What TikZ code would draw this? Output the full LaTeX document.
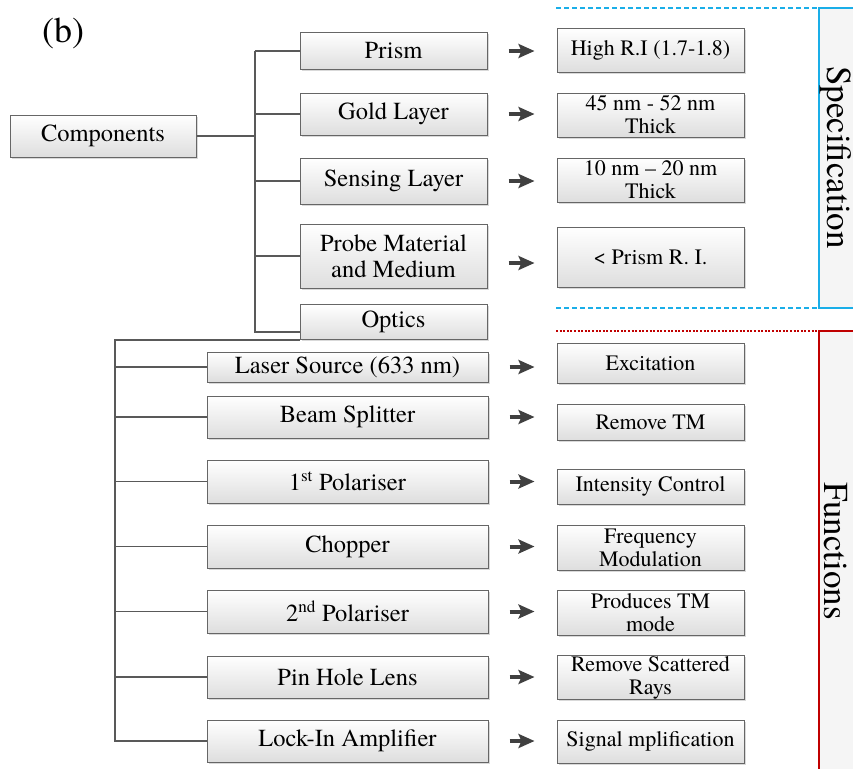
\documentclass[tikz,border=0pt]{standalone}
\usepackage{fontspec}
\setmainfont{TeX Gyre Termes}
\usetikzlibrary{positioning,arrows.meta,shadows}

\definecolor{specblue}{HTML}{1AAEE8}
\definecolor{funcred}{HTML}{C00000}

\begin{document}
\begin{tikzpicture}[
  x=1pt, y=-1pt,
  part/.style={draw=black!60, line width=1pt, top color=white, bottom color=black!13,
               drop shadow={shadow xshift=1.5pt, shadow yshift=-1.5pt, opacity=.3},
               inner sep=1pt, align=center, font=\fontsize{24.5}{26}\selectfont},
  item/.style={part, minimum width=187pt},
  tool/.style={part, minimum width=281pt},
  spec/.style={part, minimum width=187pt, font=\fontsize{22}{23}\selectfont},
  link/.style={draw=black!65, line width=1.6pt},
  ptr/.style={-{Stealth[length=16pt,width=14pt,inset=3pt]}, line width=4pt, draw=black!75,
              shorten <=21pt, shorten >=22pt},
  side/.style={font=\fontsize{35}{37}\selectfont, rotate=-90, inner sep=0pt},
]
\useasboundingbox (0,0) rectangle (853,769);

\node[font=\fontsize{36}{38}\selectfont] (tag) at (63,33) {(b)};

% root and first level
\node[item, minimum width=186pt, minimum height=42pt] (comp) at (103,136) {Components};
\node[item, minimum height=37pt] (prism)   at (393.5,51)  {Prism};
\node[item, minimum height=42pt] (gold)    at (393.5,114) {Gold Layer};
\node[item, minimum height=46pt] (sensing) at (393.5,181) {Sensing Layer};
\node[item, minimum height=64pt] (probe)   at (393.5,256) {Probe Material\\and Medium};
\node[item, minimum height=35pt] (optics)  at (393.5,322) {Optics};

% optics parts
\node[tool, minimum height=30pt] (laser)    at (347.5,367)   {Laser Source (633 nm)};
\node[tool, minimum height=42pt] (splitter) at (347.5,417)   {Beam Splitter};
\node[tool, minimum height=43pt] (pol1)     at (347.5,481.5) {1\textsuperscript{st} Polariser};
\node[tool, minimum height=43pt] (chopper)  at (347.5,546.5) {Chopper};
\node[tool, minimum height=43pt] (pol2)     at (347.5,611.5) {2\textsuperscript{nd} Polariser};
\node[tool, minimum height=42pt] (pinhole)  at (347.5,677)   {Pin Hole Lens};
\node[tool, minimum height=42pt] (lockin)   at (347.5,741)   {Lock-In Amplifier};

% specifications
\node[spec, minimum height=44pt] (sprism)   at (650.5,50)  {High R.I (1.7-1.8)};
\node[spec, minimum height=44pt] (sgold)    at (650.5,115) {45 nm - 52 nm\\Thick};
\node[spec, minimum height=44pt] (ssensing) at (650.5,180) {10 nm -- 20 nm\\Thick};
\node[spec, minimum height=60pt] (sprobe)   at (650.5,257) {< Prism R. I.};

% functions
\node[spec, minimum height=40pt] (flaser)    at (650.5,363)   {Excitation};
\node[spec, minimum height=36pt] (fsplitter) at (650.5,422)   {Remove TM};
\node[spec, minimum height=35pt] (fpol1)     at (650.5,486.5) {Intensity Control};
\node[spec, minimum height=45pt] (fchopper)  at (650.5,547.5) {Frequency\\Modulation};
\node[spec, minimum height=45pt] (fpol2)     at (650.5,612.5) {Produces TM\\mode};
\node[spec, minimum height=43pt] (fpinhole)  at (650.5,677.5) {Remove Scattered\\Rays};
\node[spec, minimum height=43pt] (flockin)   at (650.5,741.5) {Signal mplification};

% tree lines
\coordinate (trunkA) at (255,0);
\coordinate (trunkB) at (115,0);
\draw[link] (comp.east) -- (comp.east -| trunkA);
\foreach \n in {prism,gold,sensing,probe}
  \draw[link] (\n.west) -- (\n.west -| trunkA);
\draw[link] (prism.west -| trunkA) |- ([yshift=-10pt]optics.west);
\draw[link] (optics.south west) -| (lockin.west -| trunkB) -- (lockin.west);
\foreach \n in {laser,splitter,pol1,chopper,pol2,pinhole}
  \draw[link] (\n.west) -- (\n.west -| trunkB);

% arrows
\foreach \a/\b in {prism/sprism,gold/sgold,sensing/ssensing,
                   laser/flaser,splitter/fsplitter,pol1/fpol1,chopper/fchopper,
                   pol2/fpol2,pinhole/fpinhole,lockin/flockin}
  \draw[ptr] (\a.east) -- (\a.east -| \b.west);
\draw[ptr] ([yshift=-7pt]probe.east) -- ([yshift=-7pt]probe.east -| sprobe.west);

% side panels
\fill[black!4] (819,8) rectangle (853,308);
\fill[black!4] (819,331) rectangle (853,769);
\draw[specblue, line width=2pt, dash pattern=on 5pt off 3pt] (556,8) -- (819,8);
\draw[specblue, line width=2pt, dash pattern=on 5pt off 3pt] (556,308) -- (819,308);
\draw[specblue, line width=2pt] (853,8) -- (819,8) -- (819,308) -- (853,308);
\draw[funcred, line width=1.6pt, dash pattern=on 2pt off 1.6pt] (556,331) -- (819,331);
\draw[funcred, line width=2pt] (853,331) -- (819,331) -- (819,769);
\node[side] (spectext) at (836,157.5) {Specification};
\node[side] (functext) at (836,551) {Functions};
\end{tikzpicture}
\end{document}
